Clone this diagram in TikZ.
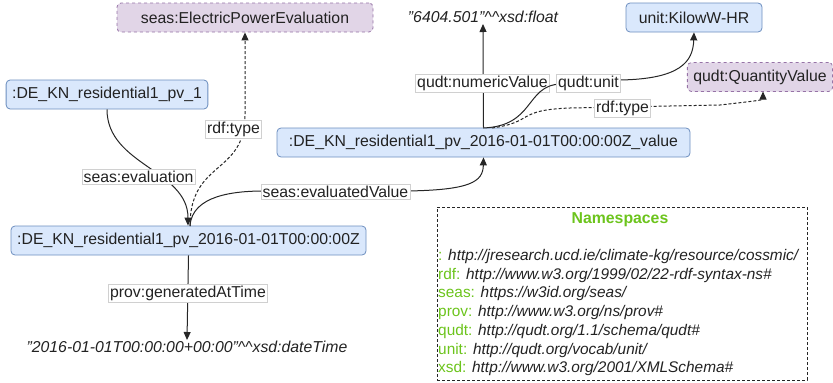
\documentclass[tikz,border=0pt]{standalone}
\usepackage{fontspec}
\setmainfont{Liberation Sans}
\usetikzlibrary{arrows.meta}
\definecolor{bluefill}{HTML}{DAE8FC}
\definecolor{blueline}{HTML}{6C8EBF}
\definecolor{purpfill}{HTML}{E1D5E7}
\definecolor{purpline}{HTML}{9673A6}
\definecolor{nsgreen}{RGB}{108,196,28}
\definecolor{lblline}{HTML}{D0D0D0}
\definecolor{txt}{HTML}{222222}
\tikzset{
  resnode/.style={draw=blueline, fill=bluefill, rounded corners=4pt, line width=0.8pt,
    minimum height=29pt, inner xsep=6pt, text=txt, font=\fontsize{15.8}{19}\selectfont},
  classnode/.style={draw=purpline, fill=purpfill, rounded corners=4pt, dashed, line width=0.8pt,
    minimum height=29pt, inner xsep=6pt, text=txt, font=\fontsize{15.8}{19}\selectfont},
  litnode/.style={text=txt, font=\fontsize{15.8}{19}\selectfont\itshape, inner sep=1pt},
  edgelbl/.style={fill=white, draw=lblline, line width=0.5pt, inner sep=1.5pt, text=txt,
    font=\fontsize{15.8}{19}\selectfont},
  rel/.style={draw=black!85, line width=1pt, -{Triangle[length=8pt,width=7pt]}},
  typerel/.style={rel, dashed, dash pattern=on 3pt off 2pt},
  nsline/.style={anchor=west, inner sep=0pt, text=txt, font=\fontsize{15.4}{19}\selectfont},
}
\begin{document}
\begin{tikzpicture}[x=1pt,y=-1pt]
\useasboundingbox (0,0) rectangle (833,383);

% nodes
\node[classnode, minimum width=256pt] (epe) at (245,17.5) {seas:ElectricPowerEvaluation};
\node[resnode, minimum width=194pt] (pv1) at (107,94.5) {:DE\_KN\_residential1\_pv\_1};
\node[resnode, minimum width=413pt] (val) at (483.5,142.5) {:DE\_KN\_residential1\_pv\_2016-01-01T00:00:00Z\_value};
\node[litnode] (flt) at (483,17) {"6404.501"\textasciicircum\textasciicircum xsd:float};
\node[resnode, minimum width=136pt] (kwh) at (694,17.5) {unit:KilowW-HR};
\node[classnode, minimum width=142pt] (qv) at (760,77) {qudt:QuantityValue};
\node[resnode, minimum width=355pt] (ev) at (188.5,240.5) {:DE\_KN\_residential1\_pv\_2016-01-01T00:00:00Z};
\node[litnode] (dt) at (187,347) {"2016-01-01T00:00:00+00:00"\textasciicircum\textasciicircum xsd:dateTime};

% namespaces box
\node[draw=black!85, dashed, dash pattern=on 3pt off 2pt, line width=0.8pt, minimum width=370pt, minimum height=173pt] (nsbox) at (622,293.5) {};
\node[text=nsgreen, font=\fontsize{15.8}{19}\selectfont\bfseries] (nstitle) at (620,220) {Namespaces};
\node[nsline] (ns1) at (438,257) {\textcolor{nsgreen}{:} \textit{http://jresearch.ucd.ie/climate-kg/resource/cossmic/}};
\node[nsline] (ns2) at (438,276) {\textcolor{nsgreen}{rdf:} \textit{http://www.w3.org/1999/02/22-rdf-syntax-ns\#}};
\node[nsline] (ns3) at (438,294) {\textcolor{nsgreen}{seas:} \textit{https://w3id.org/seas/}};
\node[nsline] (ns4) at (438,313) {\textcolor{nsgreen}{prov:} \textit{http://www.w3.org/ns/prov\#}};
\node[nsline] (ns5) at (438,332) {\textcolor{nsgreen}{qudt:} \textit{http://qudt.org/1.1/schema/qudt\#}};
\node[nsline] (ns6) at (438,351) {\textcolor{nsgreen}{unit:} \textit{http://qudt.org/vocab/unit/}};
\node[nsline] (ns7) at (438,369) {\textcolor{nsgreen}{xsd:} \textit{http://www.w3.org/2001/XMLSchema\#}};

% edges
\draw[rel] (pv1.south) .. controls (107,165) and (188,170) .. (ev.north -| 188,0);
\node[edgelbl] (l1) at (138.5,177) {seas:evaluation};

\draw[typerel] (190,226) .. controls (190,160) and (245,175) .. (245,115) -- (epe.south);
\node[edgelbl] (l2) at (233.5,129.5) {rdf:type};

\draw[rel] (190,226) .. controls (192,195) and (235,191) .. (264,191) -- (407,191) .. controls (470,190) and (483,182) .. (val.south);
\node[edgelbl] (l3) at (335.5,192) {seas:evaluatedValue};

\draw[rel] (val.north) -- (flt.south);
\node[edgelbl] (l4) at (482.5,83) {qudt:numericValue};

\draw[rel] (483,128) .. controls (535,126) and (525,86) .. (560,84) -- (620,80) .. controls (680,79) and (693,62) .. (kwh.south);
\node[edgelbl] (l5) at (588.5,83) {qudt:unit};

\draw[typerel] (492,128) .. controls (535,122) and (515,110) .. (570,108) -- (720,105) .. controls (755,101) and (763,100) .. (763,91.5);
\node[edgelbl] (l6) at (622.5,108.5) {rdf:type};

\draw[rel] (ev.south) -- (dt.north);
\node[edgelbl] (l7) at (188,293.5) {prov:generatedAtTime};
\end{tikzpicture}
\end{document}
